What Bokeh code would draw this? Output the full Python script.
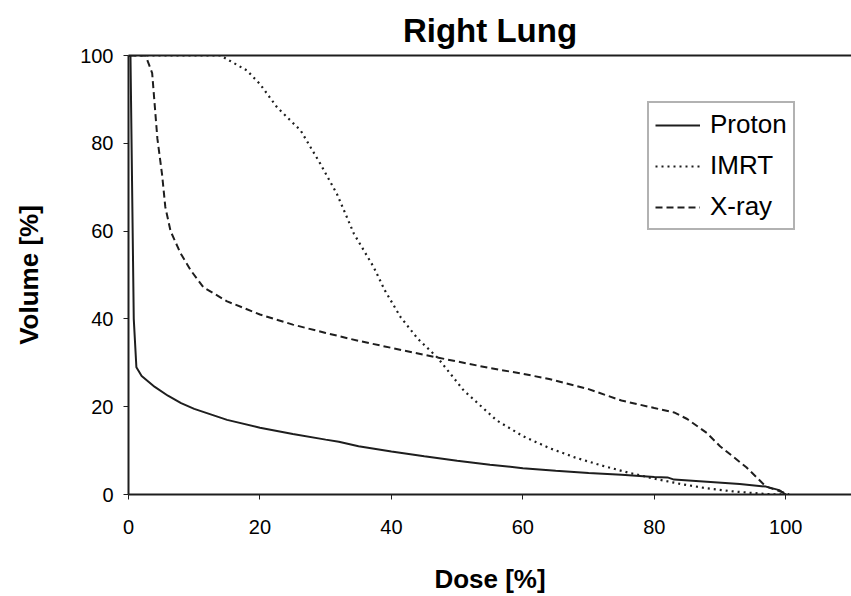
from bokeh.plotting import figure
from bokeh.models import Range1d, LinearAxis, FixedTicker, Legend, LegendItem
from bokeh.embed import file_html
from bokeh.resources import INLINE

# Dose-volume histogram, right lung
proton_dose = [0, 0.3, 0.8, 1.2, 2, 4, 6, 8, 10, 15, 20, 25, 30, 32, 35, 40, 45, 50, 55, 60,
               65, 70, 75, 80, 82, 83, 88, 93, 97, 99, 100]
proton_vol = [100, 100, 40, 29, 27, 24.5, 22.5, 20.8, 19.5, 17, 15.2, 13.8, 12.5, 12, 11, 9.8,
              8.7, 7.7, 6.8, 6.0, 5.4, 4.9, 4.5, 4.0, 3.9, 3.4, 2.9, 2.4, 1.8, 1.0, 0]

imrt_dose = [0, 14, 18, 20, 22.6, 26.2, 29.2, 31.7, 34.3, 37.3, 39, 41.4, 44, 47, 51, 56, 60,
             64, 68, 72, 76, 80, 84, 88, 92, 97, 100]
imrt_vol = [100, 100, 96.6, 93.5, 88.2, 82.9, 75.3, 68.5, 59.4, 51.8, 46.5, 40.4, 35.5, 31.2,
            23.7, 16.9, 13.3, 10.6, 8.4, 6.6, 5.0, 3.6, 2.4, 1.4, 0.7, 0.1, 0]

xray_dose = [0, 2.6, 3.6, 4.4, 5.1, 5.6, 6.4, 7.9, 9.5, 11.4, 15, 20, 25, 30, 35, 40, 47, 55,
             60, 64, 70, 75, 80, 83, 85, 88, 90, 94, 97, 99, 100.5]
xray_vol = [100, 100, 96, 81, 73, 65.5, 60, 55, 51, 47.2, 44, 41, 38.7, 36.8, 35, 33.4, 31.2,
            28.8, 27.5, 26.3, 24, 21.4, 19.7, 18.7, 17.2, 14, 11, 6.2, 1.8, 0.8, 0]

x_ticks = [0, 20, 40, 60, 80, 100]
y_ticks = [0, 20, 40, 60, 80, 100]

FONT = "Liberation Sans"
INK = "#1e1e1e"

p = figure(width=851, height=596, output_backend="svg", toolbar_location=None,
           x_range=Range1d(0, 110), y_range=Range1d(0, 100),
           min_border_left=128, min_border_right=0, min_border_bottom=102,
           min_border_top=55)
p.background_fill_color = "white"
p.border_fill_color = "white"
p.outline_line_color = None
p.xgrid.visible = False
p.ygrid.visible = False

p.title.text = "Right Lung"
p.title.text_font = FONT
p.title.text_font_size = "33px"
p.title.text_font_style = "bold"
p.title.text_color = "black"
p.title.align = "center"
p.title.standoff = 14

for ax, ticks in ((p.xaxis[0], x_ticks), (p.yaxis[0], y_ticks)):
    ax.ticker = FixedTicker(ticks=ticks)
    ax.minor_tick_line_color = None
    ax.major_tick_in = 0
    ax.major_tick_out = 5
    ax.axis_line_width = 2
    ax.axis_line_color = INK
    ax.major_tick_line_color = INK
    ax.major_label_text_font = FONT
    ax.major_label_text_font_size = "20px"
    ax.major_label_text_color = "black"
    ax.axis_label_text_font = FONT
    ax.axis_label_text_font_size = "26px"
    ax.axis_label_text_font_style = "bold"
    ax.axis_label_text_color = "black"

p.xaxis.axis_label = "Dose [%]"
p.yaxis.axis_label = "Volume [%]"
p.xaxis.major_label_standoff = 20
p.xaxis.axis_label_standoff = 27
p.yaxis.major_label_standoff = 10
p.yaxis.axis_label_standoff = 33

top = LinearAxis(ticker=FixedTicker(ticks=[]), axis_line_width=2, axis_line_color=INK,
                 major_tick_out=0, major_tick_in=0, minor_tick_out=0, minor_tick_in=0,
                 major_label_standoff=0, major_label_text_font_size="0px")
p.add_layout(top, "above")

r_p = p.line(proton_dose, proton_vol, line_color=INK, line_width=2)
r_i = p.line(imrt_dose, imrt_vol, line_color=INK, line_width=2.2, line_dash="2 4")
r_x = p.line(xray_dose, xray_vol, line_color=INK, line_width=2, line_dash="7 4")

legend = Legend(items=[LegendItem(label="Proton", renderers=[r_p]),
                       LegendItem(label="IMRT", renderers=[r_i]),
                       LegendItem(label="X-ray", renderers=[r_x])],
                location=(519, 264))
legend.label_text_font = FONT
legend.label_text_font_size = "26px"
legend.label_text_color = "black"
legend.glyph_width = 45
legend.glyph_height = 30
legend.label_height = 30
legend.spacing = 10
legend.padding = 6
legend.margin = 0
legend.label_standoff = 10
legend.border_line_color = "#666666"
legend.border_line_width = 2
legend.background_fill_color = "white"
legend.background_fill_alpha = 1
p.add_layout(legend, "center")

open("out.html", "w").write(file_html(p, INLINE))
